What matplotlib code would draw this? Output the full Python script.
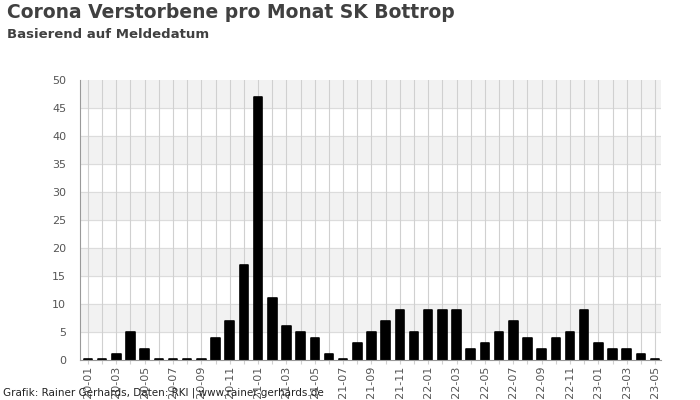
import numpy as np
import matplotlib
matplotlib.use('Agg')
import matplotlib.pyplot as plt

months = ['2020-01', '2020-02', '2020-03', '2020-04', '2020-05', '2020-06', '2020-07', '2020-08',
          '2020-09', '2020-10', '2020-11', '2020-12', '2021-01', '2021-02', '2021-03', '2021-04',
          '2021-05', '2021-06', '2021-07', '2021-08', '2021-09', '2021-10', '2021-11', '2021-12',
          '2022-01', '2022-02', '2022-03', '2022-04', '2022-05', '2022-06', '2022-07', '2022-08',
          '2022-09', '2022-10', '2022-11', '2022-12', '2023-01', '2023-02', '2023-03', '2023-04',
          '2023-05']
deaths = [0, 0, 1, 5, 2, 0, 0, 0, 0, 4, 7, 17, 47, 11, 6, 5, 4, 1, 0, 3, 5, 7, 9, 5,
          9, 9, 9, 2, 3, 5, 7, 4, 2, 4, 5, 9, 3, 2, 2, 1, 0]

fig = plt.figure(figsize=(7, 4), dpi=100)
ax = fig.add_axes([80 / 700, 40 / 400, 581 / 700, 280 / 400])

x = np.arange(len(months))
# zero months still get a tiny stub like in the original
heights = [d if d > 0 else 0.25 for d in deaths]

# alternating bands
for lo in range(5, 50, 10):
    ax.axhspan(lo, lo + 5, color='#f2f2f2', zorder=0)
for y in range(5, 50, 5):
    ax.axhline(y, color='#dcdcdc', lw=0.8, zorder=0.5)
for xi in x:
    ax.axvline(xi, color='#d0d0d0', lw=0.8, zorder=0.5)

ax.bar(x, heights, width=0.6, color='black', edgecolor='black', linewidth=1.2,
       joinstyle='round', zorder=2)

ax.set_xlim(-0.56, len(months) - 0.58)
ax.set_ylim(0, 50)
ax.set_yticks(range(0, 51, 5))
ax.set_xticks(x)
ax.set_xticklabels([m if i % 2 == 0 else '' for i, m in enumerate(months)], rotation=90)
ax.tick_params(axis='x', length=3, color='#d0d0d0', labelsize=8, labelcolor='#555555', pad=1)
ax.tick_params(axis='y', length=0, labelsize=8, labelcolor='#555555', pad=10)

for s in ['top', 'right']:
    ax.spines[s].set_visible(False)
ax.spines['left'].set_color('#999999')
ax.spines['bottom'].set_color('#999999')

fig.text(7 / 700, 1 - 13 / 400, 'Corona Verstorbene pro Monat SK Bottrop', fontsize=13.5,
         fontweight='bold', color='#404040', va='center')
fig.text(7 / 700, 1 - 34 / 400, 'Basierend auf Meldedatum', fontsize=9.5,
         fontweight='bold', color='#404040', va='center')
fig.text(3 / 700, 1 - 393 / 400, 'Grafik: Rainer Gerhards, Daten: RKI | www.rainer-gerhards.de',
         fontsize=7.5, color='#222222', va='center', zorder=10)

fig.savefig('out.png', dpi=100)
